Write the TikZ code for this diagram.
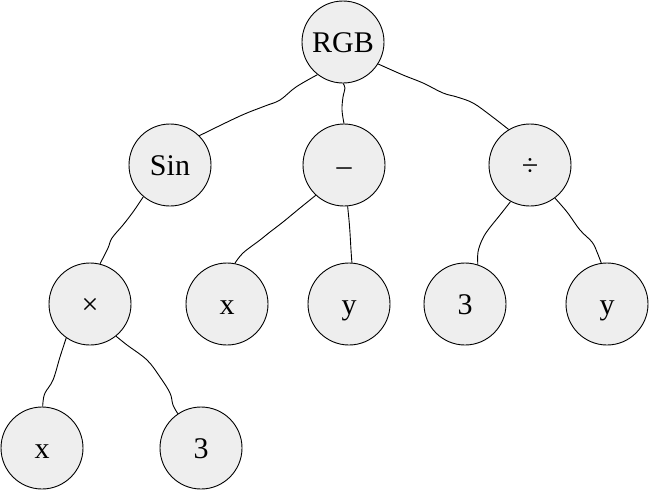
\documentclass[tikz,border=0pt]{standalone}
\usepackage{fontspec}
\setmainfont{Liberation Serif}
\definecolor{nodefill}{HTML}{EEEEEE}
\begin{document}
\begin{tikzpicture}[x=1pt,y=-1pt,
  treenode/.style={circle,draw=black,line width=0.9pt,fill=nodefill,
    minimum size=82pt,inner sep=0pt,text height=21pt,text depth=0pt,
    font=\fontsize{30}{36}\selectfont},
  edge/.style={draw=black,line width=0.9pt,smooth,tension=0.6}]
\useasboundingbox (0,0) rectangle (650,490);

% nodes
\node[treenode] (rgb)  at (343,42)  {RGB};
\node[treenode] (sin)  at (170,165) {Sin};
\node[treenode] (sub)  at (344,165) {–};
\node[treenode] (dvd)  at (530,165) {÷};
\node[treenode] (mul)  at (90,304)  {×};
\node[treenode] (x1)   at (227,304) {x};
\node[treenode] (y1)   at (349,304) {y};
\node[treenode] (n3a)  at (465,304) {3};
\node[treenode] (y2)   at (607,304) {y};
\node[treenode] (x2)   at (42,448)  {x};
\node[treenode] (n3b)  at (201,448) {3};

% wavy edges
\draw[edge] plot coordinates {(rgb.232) (296,87) (280,100) (265,106) (240,116) (sin.45)};
\draw[edge] plot coordinates {(rgb.270) (345,88) (343,97) (342,110) (sub.90)};
\draw[edge] plot coordinates {(rgb.328) (403,75) (423,83) (443,93) (457,97) (473,103) (490,115) (dvd.121)};
\draw[edge] plot coordinates {(sin.230) (133,212) (123,225) (112,238) (108,248) (mul.76)};
\draw[edge] plot coordinates {(mul.235) (60,357) (53,380) (45,393) (43,402) (x2.89)};
\draw[edge] plot coordinates {(mul.309) (127,345) (147,360) (160,377) (170,393) (173,405) (n3b.124)};
\draw[edge] plot coordinates {(sub.227) (300,208) (283,222) (270,232) (260,240) (243,253) (x1.79)};
\draw[edge] plot coordinates {(sub.275) (349,220) (350,233) (351,250) (y1.86)};
\draw[edge] plot coordinates {(dvd.242) (500,215) (488,230) (482,240) (478,252) (n3a.72)};
\draw[edge] plot coordinates {(dvd.307) (567,212) (580,230) (592,242) (597,252) (y2.98)};
\end{tikzpicture}
\end{document}
